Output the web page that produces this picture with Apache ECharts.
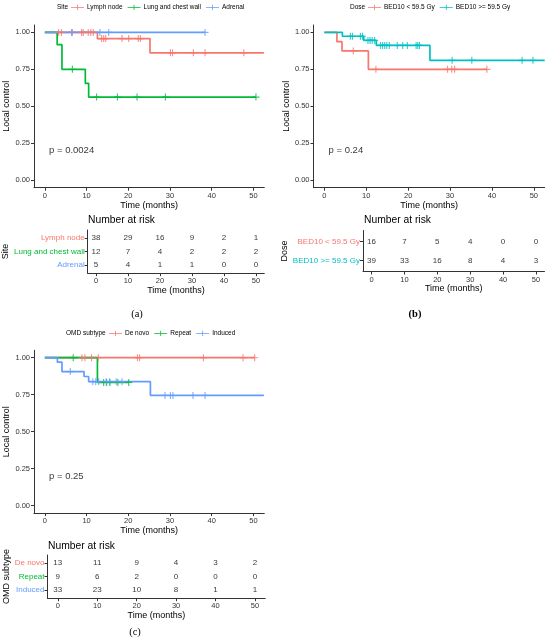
<!DOCTYPE html>
<html>
<head>
<meta charset="utf-8">
<script src="https://cdn.jsdelivr.net/npm/echarts@6.0.0/dist/echarts.min.js"></script>
<style>
  html, body { margin: 0; padding: 0; background: #fff; }
  #chart { width: 550px; height: 642px; }
</style>
</head>
<body>
<div id="chart"></div>
<script>
// ticks
const timeTicks = [0, 10, 20, 30, 40, 50];
const survTicks = [0, 0.25, 0.5, 0.75, 1];

// (a) site
const siteNames = ['Lymph node', 'Lung and chest wall', 'Adrenal'];
const siteColors = ['#F8766D', '#00BA38', '#619CFF'];
const lymphSteps = [[0, 1], [12.6, 0.958], [25.2, 0.862], [52.5, 0.862]];
const lymphCensor = [3.3, 4.0, 6.6, 8.8, 9.2, 10.4, 11.0, 11.6, 13.6, 14.1, 14.6, 18.5, 20.1, 22.4, 22.9, 30.1, 30.6, 35.6, 38.4, 47.7];
const lungSteps = [[0, 1], [2.95, 0.917], [4.1, 0.75], [9.7, 0.656], [10.5, 0.5625], [50.6, 0.5625]];
const lungCensor = [6.6, 12.4, 17.4, 22.1, 28.9, 50.6];
const adrenalSteps = [[0, 1], [38.4, 1]];
const adrenalCensor = [6.4, 13.2, 15.3, 38.4];
const siteRisk = [[38, 29, 16, 9, 2, 1], [12, 7, 4, 2, 2, 2], [5, 4, 1, 1, 0, 0]];

// (b) dose
const doseNames = ['BED10 < 59.5 Gy', 'BED10 >= 59.5 Gy'];
const doseColors = ['#F8766D', '#00BFC4'];
const lowSteps = [[0, 1], [3.0, 0.9375], [4.2, 0.875], [10.5, 0.75], [38.8, 0.75]];
const lowCensor = [6.9, 12.3, 29.4, 30.4, 31.1, 38.8];
const highSteps = [[0, 1], [4.3, 0.974], [9.4, 0.946], [12.4, 0.912], [25.2, 0.811], [52.6, 0.811]];
const highCensor = [6.2, 6.7, 8.6, 9.1, 10.4, 10.9, 11.4, 12.0, 13.4, 13.9, 14.4, 14.9, 15.5, 17.4, 18.7, 19.8, 21.9, 22.3, 22.7, 30.5, 35.2, 47.2, 49.8];
const doseRisk = [[16, 7, 5, 4, 0, 0], [39, 33, 16, 8, 4, 3]];

// (c) OMD subtype
const omdNames = ['De novo', 'Repeat', 'Induced'];
const omdColors = ['#F8766D', '#00BA38', '#619CFF'];
const denovoSteps = [[0, 1], [50.3, 1]];
const denovoCensor = [8.9, 9.6, 11.2, 12.8, 22.2, 22.7, 38.0, 47.5, 50.3];
const repeatSteps = [[0, 1], [12.6, 0.833], [20.1, 0.833]];
const repeatCensor = [6.8, 14.1, 14.8, 15.6, 17.5, 20.1];
const inducedSteps = [[0, 1], [3.0, 0.970], [4.1, 0.906], [9.4, 0.873], [10.5, 0.838], [25.3, 0.745], [52.5, 0.745]];
const inducedCensor = [6.1, 11.5, 12.2, 12.9, 14.7, 15.5, 17.1, 18.5, 28.8, 30.1, 30.7, 35.5, 38.4];
const omdRisk = [[13, 11, 9, 4, 3, 2], [9, 6, 2, 0, 0, 0], [33, 23, 10, 8, 1, 1]];

const SANS = '"Liberation Sans", Arial, sans-serif';
const INK = '#333';
const PLUS = 'path://M4.2,0h1.6v10h-1.6zM0,4.2h10v1.6h-10z';
const LEG = 'path://M0,4.4h20v1.2h-20zM9.4,1h1.2v8h-1.2z';

const panels = [
  {
    names: siteNames, colors: siteColors,
    steps: [lymphSteps, lungSteps, adrenalSteps],
    censors: [lymphCensor, lungCensor, adrenalCensor],
    risk: siteRisk, p: 'p = 0.0024',
    plot: { left: 34, top: 25, width: 230.3, height: 162.7 },
    table: { left: 87.7, top: 230, width: 176.6, height: 43.2 },
    legend: { left: 71, top: 3.8 }, tableName: 'Site', tableNameGap: 69
  },
  {
    names: doseNames, colors: doseColors,
    steps: [lowSteps, highSteps],
    censors: [lowCensor, highCensor],
    risk: doseRisk, p: 'p = 0.24',
    plot: { left: 313.5, top: 25, width: 231.2, height: 162.7 },
    table: { left: 363, top: 230.5, width: 181.5, height: 41 },
    legend: { left: 368, top: 3.8 }, tableName: 'Dose', tableNameGap: 66
  },
  {
    names: omdNames, colors: omdColors,
    steps: [denovoSteps, repeatSteps, inducedSteps],
    censors: [denovoCensor, repeatCensor, inducedCensor],
    risk: omdRisk, p: 'p = 0.25',
    plot: { left: 34, top: 350.3, width: 230.3, height: 162.8 },
    table: { left: 47.5, top: 555, width: 217.7, height: 43.2 },
    legend: { left: 109, top: 329.8 }, tableName: 'OMD subtype', tableNameGap: 31
  }
];

function survAt(steps, t) {
  let v = steps[0][1];
  steps.forEach(s => { if (s[0] <= t) v = s[1]; });
  return v;
}

function timeAxis(gridIndex) {
  return {
    type: 'value', gridIndex, min: -2.6, max: 52.6,
    axisLine: { show: true, onZero: false, lineStyle: { color: INK, width: 1 } },
    axisTick: { show: true, length: 3, lineStyle: { color: INK }, customValues: timeTicks },
    axisLabel: { customValues: timeTicks, fontSize: 7.5, color: INK, margin: 4, fontFamily: SANS },
    splitLine: { show: false },
    name: 'Time (months)', nameLocation: 'middle', nameGap: 11,
    nameTextStyle: { fontSize: 9, color: '#000', fontFamily: SANS }
  };
}

const grids = [], xAxes = [], yAxes = [], series = [], legends = [];

panels.forEach((p, k) => {
  const gi = k * 2, ti = k * 2 + 1;
  grids.push(Object.assign({ containLabel: false, outerBoundsMode: 'none' }, p.plot));
  grids.push(Object.assign({ containLabel: false, outerBoundsMode: 'none' }, p.table));
  xAxes.push(timeAxis(gi), timeAxis(ti));
  yAxes.push({
    type: 'value', gridIndex: gi, min: -0.05, max: 1.05,
    axisLine: { show: true, onZero: false, lineStyle: { color: INK, width: 1 } },
    axisTick: { show: true, length: 3, lineStyle: { color: INK }, customValues: survTicks },
    axisLabel: { customValues: survTicks, formatter: v => v.toFixed(2), fontSize: 7.5, color: INK, margin: 4, fontFamily: SANS },
    splitLine: { show: false },
    name: 'Local control', nameLocation: 'middle', nameGap: 19,
    nameTextStyle: { fontSize: 9, color: '#000', fontFamily: SANS }
  });
  const rows = p.names.map((n, j) => j + 1);
  yAxes.push({
    type: 'value', gridIndex: ti, min: 0.4, max: p.names.length + 0.6, inverse: true,
    axisLine: { show: true, onZero: false, lineStyle: { color: INK, width: 1 } },
    axisTick: { show: true, length: 3, lineStyle: { color: INK }, customValues: rows },
    axisLabel: {
      customValues: rows, formatter: v => p.names[Math.round(v) - 1],
      color: v => p.colors[Math.round(v) - 1], fontSize: 8, margin: 3, fontFamily: SANS
    },
    splitLine: { show: false },
    name: p.tableName, nameLocation: 'middle', nameGap: p.tableNameGap,
    nameTextStyle: { fontSize: 9, color: '#000', fontFamily: SANS }
  });

  p.names.forEach((name, j) => {
    const color = p.colors[j];
    series.push({
      type: 'line', name, xAxisIndex: gi, yAxisIndex: gi, step: 'end',
      data: p.steps[j], showSymbol: false, symbol: 'none',
      lineStyle: { width: 1.7, color }, itemStyle: { color }, z: 2
    });
    series.push({
      type: 'scatter', name, xAxisIndex: gi, yAxisIndex: gi,
      data: p.censors[j].map(t => [t, survAt(p.steps[j], t)]),
      symbol: PLUS, symbolSize: 7, itemStyle: { color }, z: 3
    });
    series.push({
      type: 'scatter', xAxisIndex: ti, yAxisIndex: ti,
      data: timeTicks.map((t, i) => [t, j + 1, p.risk[j][i]]),
      symbolSize: 0,
      label: { show: true, position: 'inside', formatter: d => d.value[2], fontSize: 8, color: '#000', fontFamily: SANS }
    });
  });

  series.push({
    type: 'scatter', xAxisIndex: gi, yAxisIndex: gi,
    data: [[1, 0.2]], symbolSize: 0,
    label: { show: true, position: 'right', distance: 0, formatter: p.p, fontSize: 9.5, color: '#000', fontFamily: SANS }
  });

  legends.push({
    left: p.legend.left, top: p.legend.top, orient: 'horizontal',
    itemWidth: 13, itemHeight: 7, itemGap: 5, padding: 0,
    data: p.names.map(n => ({ name: n, icon: LEG })),
    textStyle: { fontSize: 6.5, color: '#000', fontFamily: SANS, padding: [0, 0, 0, -2] },
    selectedMode: false
  });
});

function label(x, y, text, opts) {
  return {
    type: 'text', x, y,
    style: Object.assign({ text, fontSize: 10, fill: '#000', fontFamily: SANS, align: 'left', verticalAlign: 'middle' }, opts || {})
  };
}

const graphics = [
  label(57, 7.3, 'Site', { fontSize: 6.5 }),
  label(350, 7.3, 'Dose', { fontSize: 6.5 }),
  label(66, 333.3, 'OMD subtype', { fontSize: 6.5 }),
  label(88, 220, 'Number at risk', { fontSize: 10.3 }),
  label(364, 220, 'Number at risk', { fontSize: 10.3 }),
  label(48, 546, 'Number at risk', { fontSize: 10.3 }),
  label(137, 314, '(a)', { align: 'center', fontFamily: '"Liberation Serif", serif', fontSize: 10.5 }),
  label(415, 314, '(b)', { align: 'center', fontFamily: '"Liberation Serif", serif', fontSize: 10.5, fontWeight: 'bold' }),
  label(135, 632, '(c)', { align: 'center', fontFamily: '"Liberation Serif", serif', fontSize: 10.5 })
];

const chart = echarts.init(document.getElementById('chart'), null, { renderer: 'canvas' });
chart.setOption({
  animation: false,
  backgroundColor: '#fff',
  textStyle: { fontFamily: SANS },
  grid: grids,
  xAxis: xAxes,
  yAxis: yAxes,
  legend: legends,
  graphic: graphics,
  series
});
</script>
</body>
</html>
